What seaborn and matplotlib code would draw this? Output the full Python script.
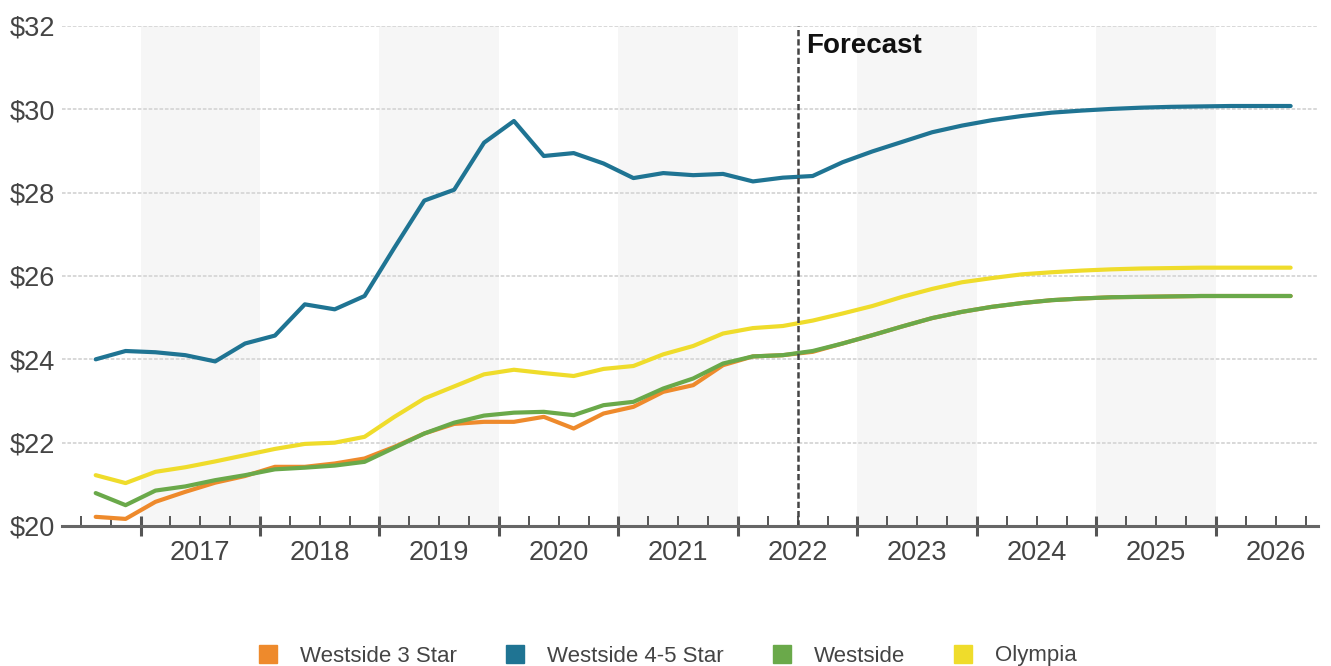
import numpy as np
import pandas as pd
import matplotlib
matplotlib.use('Agg')
import matplotlib.pyplot as plt
from matplotlib import font_manager
from matplotlib.lines import Line2D
from matplotlib.ticker import FixedLocator, FuncFormatter
import seaborn as sns

# ==========================================
# 1. DADOS
# ==========================================
QUARTERS = pd.period_range('2016Q3', '2026Q3', freq='Q')
FORECAST_START = 2022.5

SERIES = ['Westside 3 Star', 'Westside 4-5 Star', 'Westside', 'Olympia']
COLORS = ['#ee8a2c', '#1f7493', '#6aa94a', '#efdc2b']

westside_3_star = [
    20.22, 20.17, 20.58, 20.82, 21.04, 21.20, 21.42, 21.42, 21.50, 21.62,
    21.90, 22.22, 22.45, 22.50, 22.50, 22.62, 22.34, 22.70, 22.86, 23.22,
    23.38, 23.86, 24.07, 24.10, 24.18,
    24.38, 24.58, 24.79, 24.99, 25.14, 25.26, 25.35, 25.42, 25.46, 25.49,
    25.50, 25.51, 25.52, 25.52, 25.52, 25.52,
]
westside_45_star = [
    24.00, 24.20, 24.17, 24.10, 23.95, 24.38, 24.57, 25.32, 25.20, 25.52,
    26.68, 27.81, 28.07, 29.20, 29.72, 28.88, 28.95, 28.70, 28.35, 28.47,
    28.42, 28.45, 28.27, 28.36, 28.40,
    28.73, 28.99, 29.22, 29.45, 29.61, 29.74, 29.84, 29.92, 29.97, 30.01,
    30.04, 30.06, 30.07, 30.08, 30.08, 30.08,
]
westside = [
    20.79, 20.50, 20.85, 20.95, 21.10, 21.22, 21.36, 21.40, 21.45, 21.54,
    21.88, 22.22, 22.48, 22.65, 22.72, 22.74, 22.66, 22.90, 22.98, 23.30,
    23.54, 23.90, 24.07, 24.10, 24.20,
    24.38, 24.58, 24.79, 24.99, 25.14, 25.26, 25.35, 25.42, 25.46, 25.49,
    25.50, 25.51, 25.52, 25.52, 25.52, 25.52,
]
olympia = [
    21.22, 21.03, 21.30, 21.41, 21.55, 21.70, 21.85, 21.97, 22.00, 22.14,
    22.62, 23.06, 23.35, 23.64, 23.75, 23.67, 23.60, 23.77, 23.84, 24.12,
    24.32, 24.62, 24.75, 24.80, 24.93,
    25.10, 25.28, 25.50, 25.69, 25.85, 25.95, 26.04, 26.09, 26.13, 26.16,
    26.18, 26.19, 26.20, 26.20, 26.20, 26.20,
]

YEARS = list(range(2017, 2027))
SHADED_YEARS = [2017, 2019, 2021, 2023, 2025]

# ==========================================
# 2. PREPARAÇÃO
# ==========================================
x_pos = QUARTERS.year + (QUARTERS.quarter - 1) / 4 + 0.125
frames = []
for name, vals in zip(SERIES, [westside_3_star, westside_45_star, westside, olympia]):
    frames.append(pd.DataFrame({'x': x_pos, 'rent': vals, 'series': name}))
plot_data = pd.concat(frames, ignore_index=True)

sns.set_theme(style="white")
names = {f.name for f in font_manager.fontManager.ttflist}
base_font = 'Liberation Sans' if 'Liberation Sans' in names else 'DejaVu Sans'
plt.rcParams['font.family'] = [base_font, 'DejaVu Sans']

# ==========================================
# 3. PLOTAGEM
# ==========================================
fig = plt.figure(figsize=(13.31, 6.66), dpi=100)
ax = fig.add_axes([62 / 1331, 140 / 666, 1256 / 1331, 500 / 666])

# faixas cinza em anos alternados
for yr in SHADED_YEARS:
    ax.axvspan(yr, yr + 1, color='#f6f6f6', zorder=0, lw=0)

sns.lineplot(data=plot_data, x='x', y='rent', hue='series', hue_order=SERIES,
             palette=COLORS, linewidth=3, legend=False, sort=False, ax=ax,
             zorder=3)

ax.axvline(FORECAST_START, color='#444444', linestyle=(0, (2.5, 1.2)),
           linewidth=1.8, zorder=4)
ax.text(FORECAST_START + 0.07, 31.84, 'Forecast', fontsize=20,
        fontweight='bold', color='#111111', ha='left', va='top', zorder=5)

ax.set_xlim(2016.343, 2026.854)
ax.set_ylim(20, 32)
ax.set_yticks(np.arange(20, 33, 2))
ax.yaxis.set_major_formatter(FuncFormatter(lambda v, p: f'${v:.0f}'))
ax.yaxis.grid(True, color='#d6d6d6', linestyle=(0, (2, 1)), linewidth=1.3)
ax.set_axisbelow(True)

# eixo x: traços grandes nos anos, pequenos nos trimestres
ax.xaxis.set_major_locator(FixedLocator(YEARS))
quarter_ticks = [q for q in np.arange(2016.5, 2026.76, 0.25) if q % 1 != 0]
ax.xaxis.set_minor_locator(FixedLocator(quarter_ticks))
ax.tick_params(axis='x', which='major', bottom=True, direction='inout',
               length=15, width=2.2, color='#555555', labelbottom=False)
ax.tick_params(axis='x', which='minor', bottom=True, direction='in',
               length=7.5, width=1.4, color='#555555')
ax.tick_params(axis='y', left=False, length=0, pad=5, labelsize=19.5,
               labelcolor='#444444')

for yr in YEARS:
    ax.text(yr + 0.5, -0.029, str(yr), transform=ax.get_xaxis_transform(),
            ha='center', va='top', fontsize=19.5, color='#444444')

for side in ['top', 'right', 'left']:
    ax.spines[side].set_visible(False)
ax.spines['bottom'].set_color('#666666')
ax.spines['bottom'].set_linewidth(2.2)
ax.spines['bottom'].set_zorder(6)

ax.set_xlabel('')
ax.set_ylabel('')

handles = [Line2D([], [], marker='s', linestyle='none', markersize=12.5, color=c)
           for c in COLORS]
fig.legend(handles, SERIES, loc='center', bbox_to_anchor=(667 / 1331, 1 - 656 / 666),
           ncol=4, frameon=False, handlelength=1.0, handletextpad=0.95,
           columnspacing=2.1, prop={'size': 16}, labelcolor='#444444')

fig.savefig('out.png', dpi=100)
plt.close(fig)
